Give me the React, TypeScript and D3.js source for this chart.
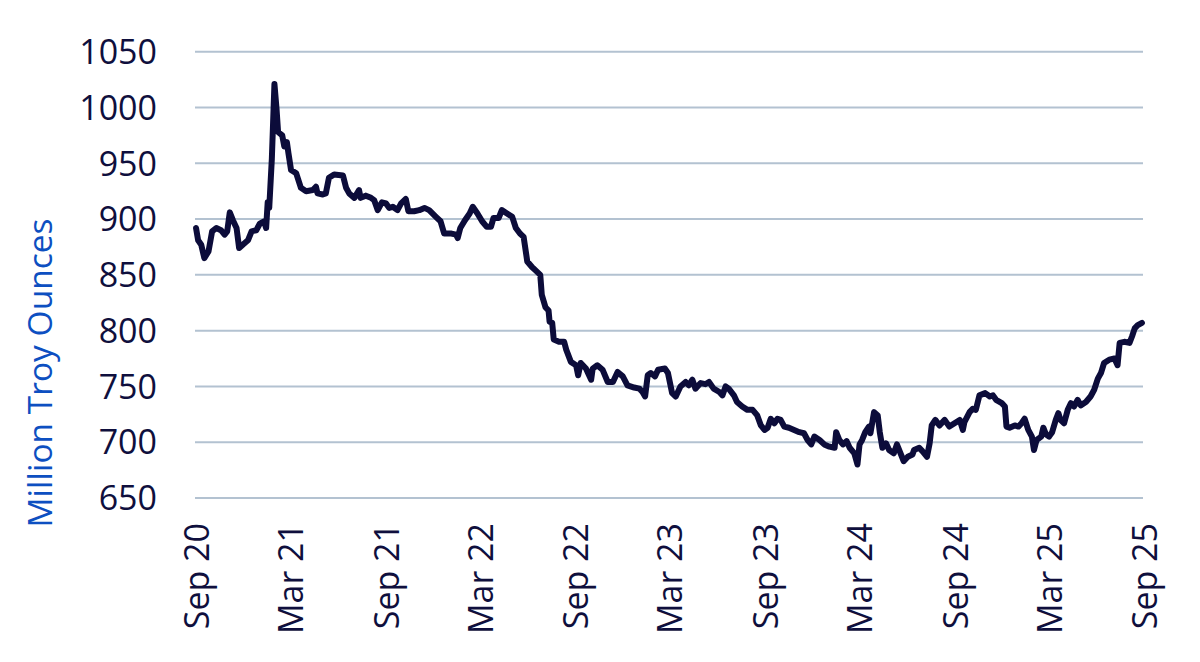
import React from "react";
import * as d3 from "d3";

const dates: string[] = [
  "2020-09-03","2020-09-07","2020-09-13","2020-09-19","2020-09-27","2020-10-04","2020-10-12","2020-10-21","2020-10-28",
  "2020-11-02","2020-11-07","2020-11-13","2020-11-20","2020-11-25","2020-12-02","2020-12-12","2020-12-19","2020-12-28",
  "2021-01-04","2021-01-12","2021-01-16","2021-01-19","2021-01-22","2021-01-27","2021-02-01","2021-02-05","2021-02-08",
  "2021-02-16","2021-02-20","2021-02-25","2021-02-28","2021-03-05","2021-03-15","2021-03-24","2021-04-03","2021-04-16",
  "2021-04-22","2021-04-25","2021-05-05","2021-05-11","2021-05-17","2021-05-27","2021-06-13","2021-06-19","2021-06-25",
  "2021-07-05","2021-07-14","2021-07-17","2021-07-27","2021-08-06","2021-08-12","2021-08-19","2021-08-27","2021-09-04",
  "2021-09-10","2021-09-17","2021-09-26","2021-10-03","2021-10-12","2021-10-17","2021-10-28","2021-11-07","2021-11-17",
  "2021-11-26","2021-12-09","2021-12-18","2021-12-25","2022-01-08","2022-01-17","2022-01-20","2022-01-25","2022-02-03",
  "2022-02-12","2022-02-18","2022-02-27","2022-03-08","2022-03-17","2022-03-25","2022-03-30","2022-04-09","2022-04-15",
  "2022-04-25","2022-05-05","2022-05-12","2022-05-20","2022-05-27","2022-06-03","2022-06-12","2022-06-19","2022-06-28",
  "2022-07-01","2022-07-08","2022-07-14","2022-07-16","2022-07-21","2022-07-24","2022-08-03","2022-08-13","2022-08-17",
  "2022-08-26","2022-09-05","2022-09-09","2022-09-14","2022-09-24","2022-10-04","2022-10-07","2022-10-16","2022-10-26",
  "2022-11-05","2022-11-15","2022-11-24","2022-12-04","2022-12-13","2022-12-26","2023-01-05","2023-01-11","2023-01-16",
  "2023-01-21","2023-01-27","2023-02-04","2023-02-10","2023-02-23","2023-03-01","2023-03-09","2023-03-16","2023-03-25",
  "2023-04-04","2023-04-10","2023-04-17","2023-04-23","2023-05-03","2023-05-12","2023-05-19","2023-05-28","2023-06-08",
  "2023-06-14","2023-06-20","2023-06-26","2023-07-06","2023-07-12","2023-07-22","2023-08-01","2023-08-11","2023-08-20",
  "2023-08-27","2023-09-03","2023-09-09","2023-09-15","2023-09-22","2023-09-28","2023-10-04","2023-10-11","2023-10-20",
  "2023-10-30","2023-11-09","2023-11-18","2023-11-25","2023-12-02","2023-12-08","2023-12-18","2023-12-27","2024-01-06",
  "2024-01-16","2024-01-19","2024-01-25","2024-02-01","2024-02-08","2024-02-14","2024-02-23","2024-02-29","2024-03-04",
  "2024-03-09","2024-03-15","2024-03-22","2024-03-25","2024-04-01","2024-04-08","2024-04-12","2024-04-17","2024-04-24",
  "2024-04-30","2024-05-09","2024-05-15","2024-05-22","2024-05-28","2024-06-05","2024-06-14","2024-06-17","2024-06-27",
  "2024-07-03","2024-07-12","2024-07-17","2024-07-21","2024-07-28","2024-08-05","2024-08-15","2024-08-24","2024-09-03",
  "2024-09-13","2024-09-19","2024-09-22","2024-10-02","2024-10-08","2024-10-14","2024-10-21","2024-11-01","2024-11-10",
  "2024-11-16","2024-11-22","2024-12-03","2024-12-09","2024-12-12","2024-12-18","2024-12-28","2025-01-04","2025-01-10",
  "2025-01-16","2025-01-23","2025-01-30","2025-02-03","2025-02-08","2025-02-17","2025-02-21","2025-02-26","2025-03-04",
  "2025-03-10","2025-03-17","2025-03-22","2025-03-26","2025-04-02","2025-04-09","2025-04-15","2025-04-21","2025-04-28",
  "2025-05-04","2025-05-14","2025-05-23","2025-05-30","2025-06-06","2025-06-12","2025-06-18","2025-06-28","2025-07-08",
  "2025-07-14","2025-07-18","2025-07-27","2025-08-06","2025-08-11","2025-08-16","2025-08-22","2025-08-30",
];

const values: number[] = [
  892,881,877,865,871,889,892,890,886,
  889,906,899,892,874,877,881,889,890,
  896,898,892,915,910,954,1021,999,978,
  975,965,969,959,944,941,928,925,926,
  929,923,922,923,937,940,939,928,923,
  919,926,919,921,919,917,908,915,914,
  910,911,908,914,918,907,907,908,910,
  908,902,898,887,887,886,883,892,899,
  905,911,905,898,893,893,901,901,908,
  905,902,892,887,884,862,857,854,850,
  832,821,818,808,807,792,790,790,783,
  772,769,760,771,766,756,766,769,765,
  754,754,763,759,751,749,748,745,741,
  760,762,759,765,766,762,744,741,750,
  754,751,756,748,753,752,754,748,745,
  742,750,748,742,736,732,729,729,724,
  715,711,713,721,717,721,720,714,713,
  711,709,708,702,698,705,702,698,696,
  695,709,702,698,701,695,690,680,698,
  702,709,714,708,727,724,709,695,699,
  693,690,698,690,683,687,689,693,695,
  692,687,699,715,720,715,720,714,717,
  720,711,718,727,730,729,742,744,741,
  742,738,735,732,714,713,715,714,717,
  721,711,705,693,702,705,713,707,705,
  709,720,726,720,717,729,735,732,738,
  733,736,741,747,757,762,771,774,775,
  769,789,790,789,795,802,805,807,
];

const yTicks: number[] = [650, 700, 750, 800, 850, 900, 950, 1000, 1050];
const xTickDates: string[] = [
  "2020-09-01","2021-03-01","2021-09-01","2022-03-01","2022-09-01","2023-03-01",
  "2023-09-01","2024-03-01","2024-09-01","2025-03-01","2025-09-01",
];
const xTickLabels: string[] = [
  "Sep 20","Mar 21","Sep 21","Mar 22","Sep 22","Mar 23",
  "Sep 23","Mar 24","Sep 24","Mar 25","Sep 25",
];
const yTitle = "Million Troy Ounces";

const W = 1200;
const H = 662;
const left = 195;
const right = 1143;
const top = 51.7;
const bottom = 498;

const parse = d3.timeParse("%Y-%m-%d");

export default function App() {
  const x = d3
    .scaleTime()
    .domain([parse("2020-09-01") as Date, parse("2025-09-01") as Date])
    .range([left, right]);
  const y = d3.scaleLinear().domain([650, 1050]).range([bottom, top]);

  const pts = dates.map((d, i) => ({ d: parse(d) as Date, v: values[i] }));
  const line = d3
    .line<{ d: Date; v: number }>()
    .x((p) => x(p.d))
    .y((p) => y(p.v));

  const font = "'Open Sans', 'Noto Sans', sans-serif";
  const navy = "#0f0f3d";

  return (
    <svg
      width={W}
      height={H}
      style={{ position: "absolute", left: 0, top: 0, background: "#fff" }}
    >
      {yTicks.map((t) => (
        <g key={t}>
          <line
            x1={left}
            x2={right}
            y1={y(t)}
            y2={y(t)}
            stroke="#b3c2d1"
            strokeWidth={2}
          />
          <text
            x={157}
            y={y(t)}
            dy="0.36em"
            textAnchor="end"
            fontFamily={font}
            fontSize={34}
            fill={navy}
          >
            {t}
          </text>
        </g>
      ))}
      {xTickDates.map((d, i) => {
        const px = x(parse(d) as Date);
        return (
          <text
            key={d}
            transform={`translate(${px},523) rotate(-90)`}
            dy="0.42em"
            textAnchor="end"
            fontFamily={font}
            fontSize={34}
            fill={navy}
          >
            {xTickLabels[i]}
          </text>
        );
      })}
      <text
        transform={`translate(52,373) rotate(-90)`}
        textAnchor="middle"
        fontFamily={font}
        fontSize={33.5}
        fill="#0d4fc1"
      >
        {yTitle}
      </text>
      <path
        d={line(pts) || ""}
        fill="none"
        stroke="#0c0c3a"
        strokeWidth={6}
        strokeLinejoin="round"
        strokeLinecap="round"
      />
    </svg>
  );
}
